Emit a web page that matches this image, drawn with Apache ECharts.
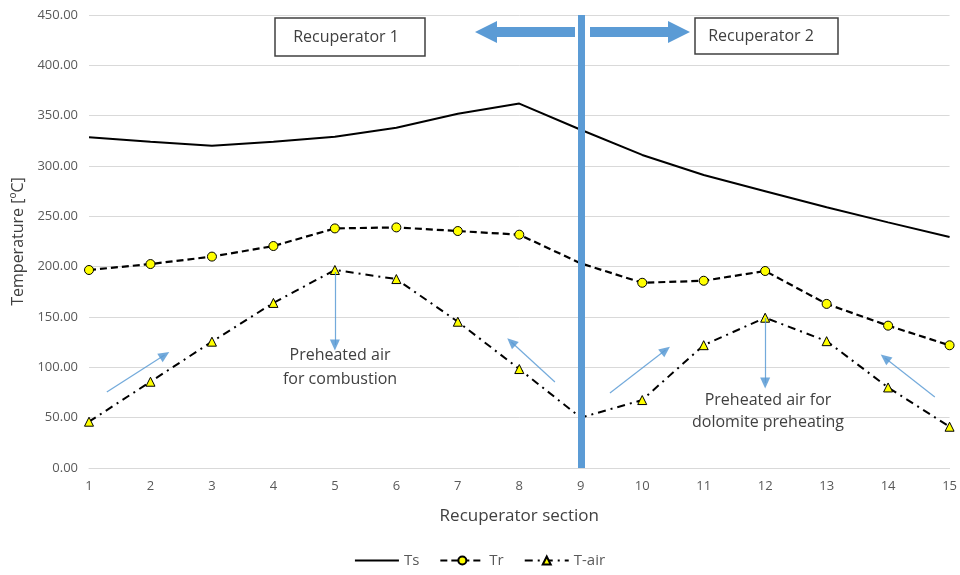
<!DOCTYPE html>
<html>
<head>
<meta charset="utf-8">
<script src="https://cdn.jsdelivr.net/npm/echarts@6/dist/echarts.min.js"></script>
<style>html,body{margin:0;padding:0;background:#fff;}#c{width:960px;height:575px;}</style>
</head>
<body>
<div id="c"></div>
<script>
const sections = [1,2,3,4,5,6,7,8,9,10,11,12,13,14,15];
const Ts   = [328.5,324,320,324,329,338,352,362,336,311,291,275,259,244,229.5];
const Tr   = [196.7,202.6,210,220.5,238,239,235.4,231.8,203.3,184,186,195.7,163,141.4,121.9];
const Tair = [46,85.7,125.5,164,196.7,187.7,145.3,98.3,50,67.5,122,149.3,126,80,41];
const yTicks = [0,50,100,150,200,250,300,350,400,450];

const FONT = '"Open Sans", "Noto Sans", sans-serif';
const BLUE = '#5B9BD5';
const pairs = arr => sections.map((s,i)=>[s,arr[i]]);
const noMarkAt9 = arr => sections.map((s,i)=> s===9 ? {value:[s,arr[i]], symbol:'none'} : [s,arr[i]]);

function arrow(x1,y1,x2,y2){
  return [{coord:[x1,y1]},{coord:[x2,y2]}];
}

const chart = echarts.init(document.getElementById('c'));
chart.setOption({
  animation:false,
  grid:{left:89,right:7,top:15,bottom:107,containLabel:false},
  xAxis:{
    type:'value',min:1,max:15,interval:1,
    name:'Recuperator section',nameLocation:'middle',nameGap:40,
    nameTextStyle:{fontFamily:FONT,fontSize:17,color:'#404040'},
    axisLine:{show:true,lineStyle:{color:'#d9d9d9',width:1}},
    axisTick:{show:false},
    splitLine:{show:false},
    axisLabel:{fontFamily:FONT,fontSize:13,color:'#595959',margin:12}
  },
  yAxis:{
    type:'value',min:0,max:450,interval:50,
    name:'Temperature [ºC]',nameLocation:'middle',nameGap:62,
    nameTextStyle:{fontFamily:FONT,fontSize:16,color:'#404040'},
    axisLine:{show:false},axisTick:{show:false},
    splitLine:{lineStyle:{color:'#d9d9d9',width:1}},
    axisLabel:{fontFamily:FONT,fontSize:13,color:'#595959',margin:11,
      formatter:v=>yTicks.includes(v)?v.toFixed(2):''}
  },
  legend:{
    bottom:2,left:'center',itemGap:20,itemWidth:44,itemHeight:10,
    textStyle:{fontFamily:FONT,fontSize:15,color:'#595959'},
    data:[
      {name:'Ts',icon:'path://M0,0h0.01v0.01h-0.01z M0,4h46v2h-46z M45.99,9.99h0.01v0.01h-0.01z',itemStyle:{color:'#000'}},
      'Tr','T-air'
    ]
  },
  series:[
    {name:'Ts',type:'line',data:pairs(Ts),symbol:'none',
     lineStyle:{color:'#000',width:2},itemStyle:{color:'#000'}},
    {name:'Tr',type:'line',data:noMarkAt9(Tr),symbol:'circle',symbolSize:9,
     lineStyle:{color:'#000',width:2.2,type:[7,4]},
     itemStyle:{color:'#FFFF00',borderColor:'#000',borderWidth:1}},
    {name:'T-air',type:'line',data:noMarkAt9(Tair),symbol:'triangle',symbolSize:9,
     lineStyle:{color:'#000',width:2,type:[8,5,2,5]},
     itemStyle:{color:'#FFFF00',borderColor:'#000',borderWidth:1}},
    {name:'annot',type:'line',data:[],z:5,silent:true,
     markLine:{
       silent:true,symbol:['none','none'],label:{show:false},
       lineStyle:{color:BLUE,width:7,type:'solid'},
       data:[{xAxis:9}]
     }},
    {name:'arrows',type:'line',data:[],z:6,silent:true,
     markLine:{
       silent:true,symbol:['none','triangle'],symbolSize:[10,11],
       label:{show:false},
       lineStyle:{color:BLUE,width:1.2,type:'solid',opacity:0.85},
       data:[
         arrow(1.29,75.5,2.23,112.2),
         arrow(5.0,194.7,5.0,122.2),
         arrow(8.58,85.4,7.87,125.2),
         arrow(9.475,74.5,10.38,117.2),
         arrow(12.0,149,12.0,84.4),
         arrow(14.76,70.5,13.95,109.3)
       ]
     }}
  ],
  graphic:[
    {type:'polygon',z:10,shape:{points:[[575,27],[497,27],[497,21],[475,32],[497,43],[497,37],[575,37]]},style:{fill:BLUE}},
    {type:'polygon',z:10,shape:{points:[[590,27],[668,27],[668,21],[690,32],[668,43],[668,37],[590,37]]},style:{fill:BLUE}},
    {type:'rect',z:10,shape:{x:275,y:18,width:150,height:38},style:{fill:'#fff',stroke:'#404040',lineWidth:1.5}},
    {type:'text',z:11,x:346,y:37,style:{text:'Recuperator 1',fontFamily:FONT,fontSize:16,fill:'#404040',align:'center',verticalAlign:'middle'}},
    {type:'rect',z:10,shape:{x:695,y:18,width:143,height:36},style:{fill:'#fff',stroke:'#404040',lineWidth:1.5}},
    {type:'text',z:11,x:761,y:36,style:{text:'Recuperator 2',fontFamily:FONT,fontSize:16,fill:'#404040',align:'center',verticalAlign:'middle'}},
    {type:'text',z:11,x:340,y:367,style:{text:'Preheated air\nfor combustion',fontFamily:FONT,fontSize:16,lineHeight:24,fill:'#404040',align:'center',verticalAlign:'middle'}},
    {type:'text',z:11,x:768,y:411,style:{text:'Preheated air for\ndolomite preheating',fontFamily:FONT,fontSize:16,lineHeight:22,fill:'#404040',align:'center',verticalAlign:'middle'}}
  ]
});
</script>
</body>
</html>
